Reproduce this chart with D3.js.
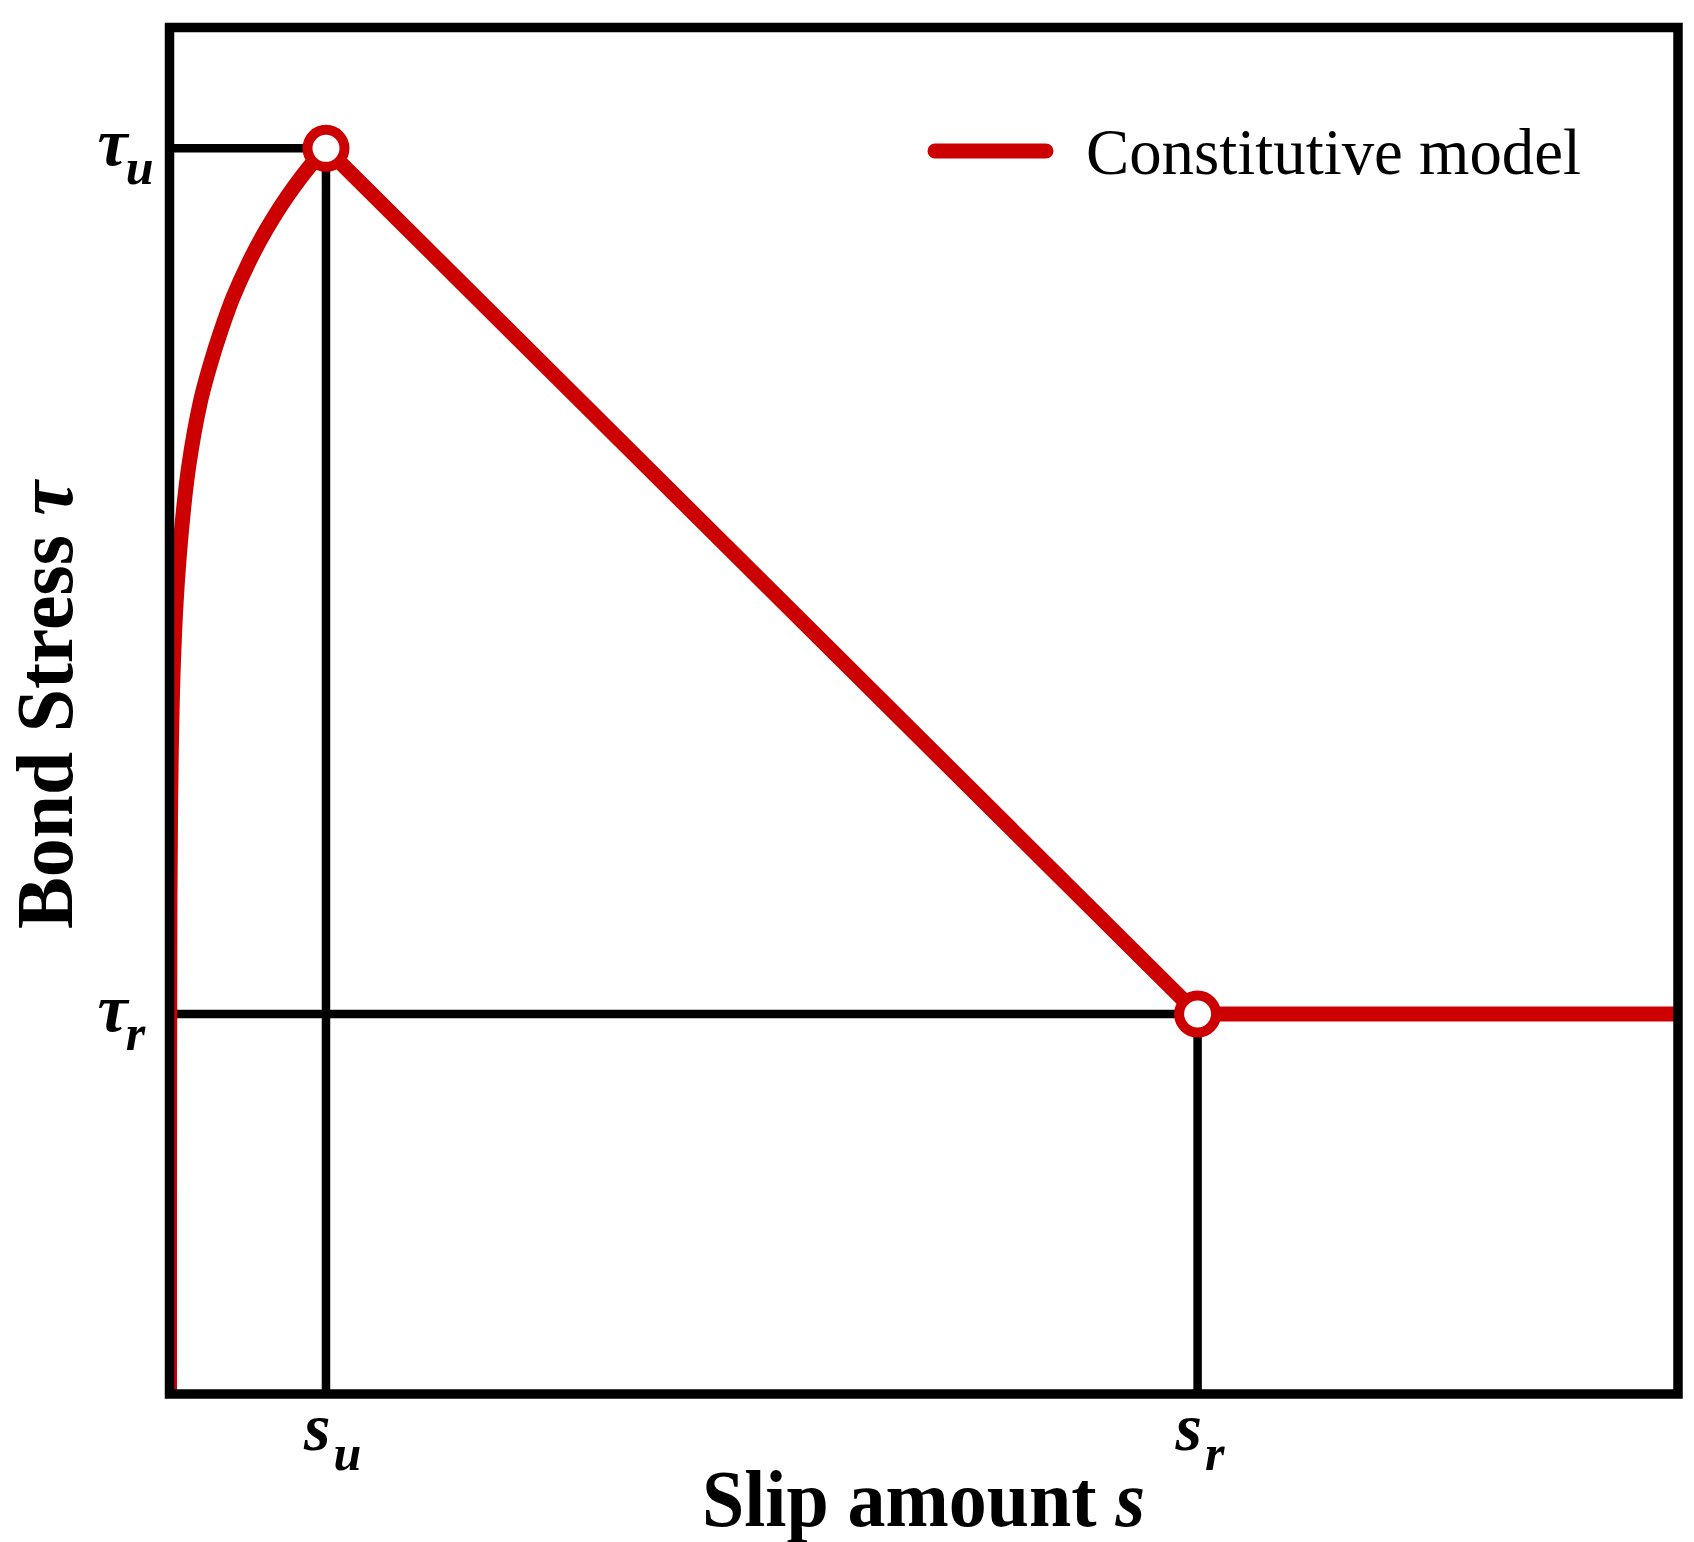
<!DOCTYPE html>
<html>
<head>
<meta charset="utf-8">
<script src="https://cdn.jsdelivr.net/npm/d3@7"></script>
<style>
  html, body { margin: 0; padding: 0; background: #ffffff; }
  svg { display: block; }
</style>
</head>
<body>
<svg id="chart" width="1694" height="1542"></svg>
<script>
// ---- data (normalised units: s / s_u, tau / tau_u) ----
const sDomain = [0, 9.64];
const tauDomain = [0, 1.097];

// ascending (pre-peak) branch
const sAsc   = [0, 0.0004, 0.003, 0.0075, 0.0135, 0.024, 0.043, 0.075, 0.122, 0.200, 0.262, 0.330, 0.405, 0.505, 0.615, 0.750, 0.925, 1.0];
const tauAsc = [0, 0.20,   0.399, 0.477,  0.530,  0.583, 0.637, 0.691, 0.744, 0.798, 0.827, 0.854, 0.880, 0.908, 0.934, 0.961, 0.990, 1.0];

// softening + residual branch
const sDesc   = [1.0, 6.57, 9.64];
const tauDesc = [1.0, 0.305, 0.305];

// characteristic points
const keyS   = [1.0, 6.57];
const keyTau = [1.0, 0.305];
const xTickMain = ["s", "s"];
const xTickSub  = ["u", "r"];
const yTickMain = ["τ", "τ"];
const yTickSub  = ["u", "r"];

const legendLabel = "Constitutive model";
const xTitleMain = "Slip amount ";
const xTitleVar = "s";
const yTitleMain = "Bond Stress ";
const yTitleVar = "τ";

// ---- layout ----
const svg = d3.select("#chart");
const pL = 169.5, pR = 1678, pT = 27.5, pB = 1394;
const red = "#cc0000";

const x = d3.scaleLinear().domain(sDomain).range([pL, pR]);
const y = d3.scaleLinear().domain(tauDomain).range([pB, pT]);

svg.append("rect").attr("width", 1694).attr("height", 1542).attr("fill", "#fff");

svg.append("defs").append("clipPath").attr("id", "plotclip")
  .append("rect").attr("x", pL).attr("y", pT).attr("width", pR - pL).attr("height", pB - pT);

// guide lines
const g = svg.append("g").attr("stroke", "#000").attr("stroke-width", 8.5);
keyS.forEach((s, i) => {
  g.append("line").attr("x1", x(0)).attr("x2", x(s))
    .attr("y1", y(keyTau[i])).attr("y2", y(keyTau[i]));
  g.append("line").attr("x1", x(s)).attr("x2", x(s))
    .attr("y1", y(keyTau[i])).attr("y2", y(0));
});

// curve
const ascPts = sAsc.map((s, i) => [s, tauAsc[i]]);
const descPts = sDesc.map((s, i) => [s, tauDesc[i]]);
const lineCurve = d3.line().x(d => x(d[0])).y(d => y(d[1])).curve(d3.curveCatmullRom.alpha(0.5));
const lineLin = d3.line().x(d => x(d[0])).y(d => y(d[1]));

const cg = svg.append("g").attr("clip-path", "url(#plotclip)");
cg.append("path").attr("d", lineCurve(ascPts))
  .attr("fill", "none").attr("stroke", red).attr("stroke-width", 15)
  .attr("stroke-linejoin", "round");
cg.append("path").attr("d", lineLin(descPts))
  .attr("fill", "none").attr("stroke", red).attr("stroke-width", 15)
  .attr("stroke-linejoin", "round");

// markers
keyS.forEach((s, i) => {
  svg.append("circle").attr("cx", x(s)).attr("cy", y(keyTau[i])).attr("r", 18.5)
    .attr("fill", "#fff").attr("stroke", red).attr("stroke-width", 10);
});

// frame
svg.append("rect").attr("x", pL).attr("y", pT)
  .attr("width", pR - pL).attr("height", pB - pT)
  .attr("fill", "none").attr("stroke", "#000").attr("stroke-width", 9.5);

const serif = "'Liberation Serif', 'Times New Roman', serif";

// y tick labels
keyTau.forEach((t, i) => {
  const tx = svg.append("text").attr("x", pL - 72).attr("y", y(t) + 17)
    .attr("font-family", serif).attr("font-weight", "bold").attr("font-style", "italic")
    .attr("font-size", 68).attr("fill", "#000");
  tx.append("tspan").text(yTickMain[i]);
  tx.append("tspan").attr("font-size", 50).attr("dy", 19).attr("dx", -2).text(yTickSub[i]);
});

// x tick labels
keyS.forEach((s, i) => {
  const tx = svg.append("text").attr("x", x(s) - 22).attr("y", pB + 56)
    .attr("font-family", serif).attr("font-weight", "bold").attr("font-style", "italic")
    .attr("font-size", 68).attr("fill", "#000");
  tx.append("tspan").text(xTickMain[i]);
  tx.append("tspan").attr("font-size", 50).attr("dy", 20).attr("dx", 3).text(xTickSub[i]);
});

// axis titles
const xt = svg.append("text").attr("x", 702).attr("y", 1526)
  .attr("font-family", serif).attr("font-weight", "bold").attr("font-size", 80)
  .attr("textLength", 443).attr("lengthAdjust", "spacingAndGlyphs").attr("fill", "#000");
xt.append("tspan").text(xTitleMain);
xt.append("tspan").attr("font-style", "italic").text(xTitleVar);

const yt = svg.append("text").attr("transform", "translate(72,929) rotate(-90)")
  .attr("x", 0).attr("y", 0)
  .attr("font-family", serif).attr("font-weight", "bold").attr("font-size", 80)
  .attr("textLength", 448).attr("lengthAdjust", "spacingAndGlyphs").attr("fill", "#000");
yt.append("tspan").text(yTitleMain);
yt.append("tspan").attr("font-style", "italic").text(yTitleVar);

// legend
svg.append("line").attr("x1", 935).attr("x2", 1046).attr("y1", 151).attr("y2", 151)
  .attr("stroke", red).attr("stroke-width", 15).attr("stroke-linecap", "round");
svg.append("text").attr("x", 1086).attr("y", 174)
  .attr("font-family", serif).attr("font-size", 66)
  .attr("textLength", 495).attr("lengthAdjust", "spacingAndGlyphs").attr("fill", "#000")
  .text(legendLabel);
</script>
</body>
</html>
